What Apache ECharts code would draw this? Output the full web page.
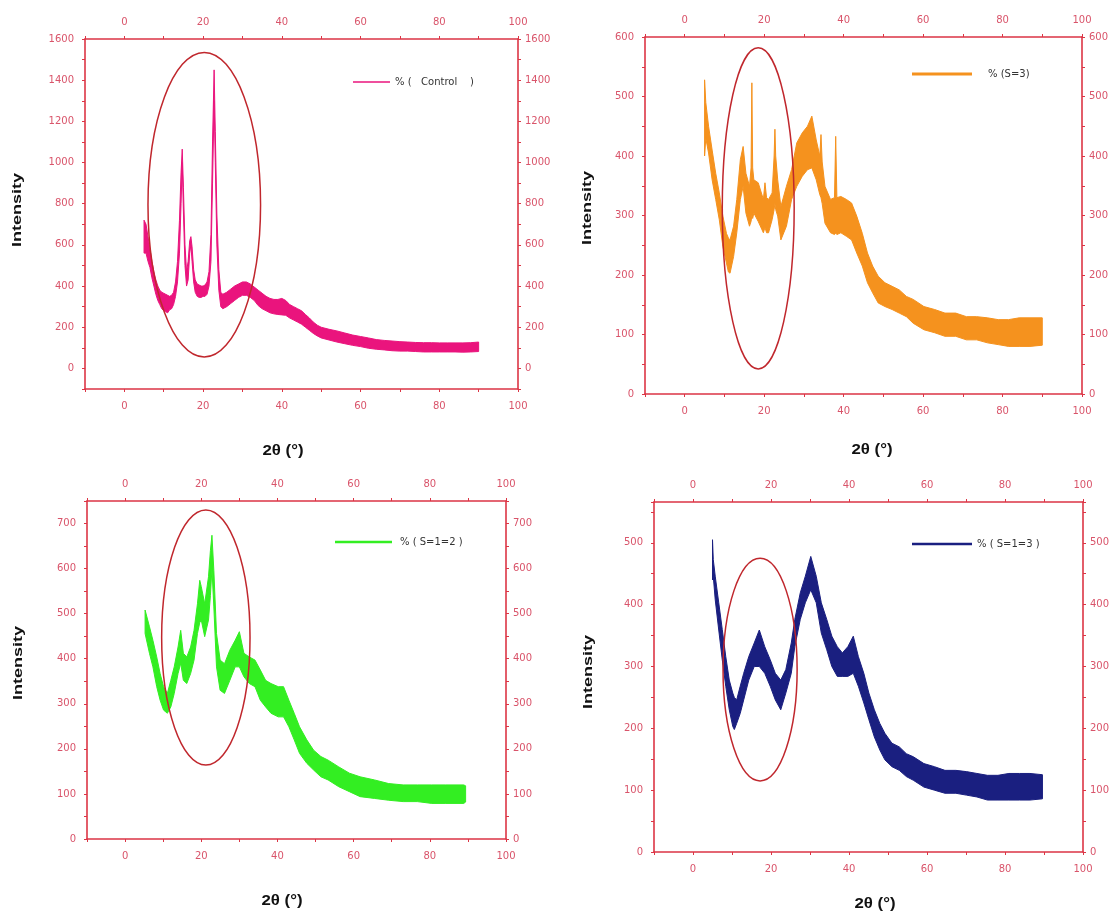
<!DOCTYPE html>
<html>
<head>
<meta charset="utf-8">
<script src="https://cdn.jsdelivr.net/npm/echarts@6/dist/echarts.min.js"></script>
<style>html,body{margin:0;padding:0;background:#fff;}#c{width:1114px;height:913px;}</style>
</head>
<body>
<div id="c"></div>
<script>
// ---------- data (2θ in degrees, intensity envelope: lower / upper edge of the noisy trace) ----------
const NAMES = ['% (   Control    )', '% (S=3)', '% ( S=1=2 )', '% ( S=1=3 )'];

const X1  = [5.0,5.5,6.0,6.5,7.0,7.5,8.0,8.5,9.0,9.5,10.0,10.5,11.0,11.5,12.0,12.5,13.0,13.5,14.0,14.4,14.7,15.0,15.4,15.8,16.2,16.6,16.9,17.2,17.6,18.0,18.5,19.0,19.5,20.0,20.5,21.0,21.5,22.0,22.4,22.8,23.1,23.5,24.0,24.5,25.0,26,27,28,29,30,31,32,33,34,35,36,37,38,39,40,41,42,43,44,45,46,47,48,49,50,52,54,56,58,60,62,64,66,68,70,72,74,76,78,80,82,84,86,88,90];
const LO1 = [560,560,520,490,440,400,360,330,310,290,280,275,270,285,290,310,350,420,560,800,1000,760,500,400,430,560,600,520,420,370,350,345,345,350,350,360,400,520,900,1300,1000,600,380,300,290,300,315,330,345,355,355,345,330,305,290,280,270,265,262,260,258,245,235,225,215,200,185,170,158,148,138,128,120,112,106,98,93,90,86,84,84,82,80,80,80,80,80,79,80,82];
const HI1 = [720,700,640,580,520,470,430,400,380,370,365,360,355,350,355,370,420,520,720,950,1065,880,600,470,520,620,640,590,480,430,410,405,400,400,405,420,470,650,1100,1450,1150,750,480,370,360,370,385,400,410,420,420,410,395,380,365,350,340,335,335,340,330,310,300,290,280,262,245,225,210,200,190,182,172,162,155,148,140,136,133,130,128,126,125,125,124,124,124,124,125,128];

const X2  = [5.0,5.3,6.0,6.9,7.8,8.7,9.6,10.5,11.0,11.4,12.3,13.1,14.0,14.7,15.4,16.3,16.7,16.9,17.1,17.4,18.5,19.8,20.2,20.6,21.1,22.0,22.5,22.7,22.9,23.4,24.2,25.6,26.9,28.2,29.6,30.9,32.0,33.1,34.0,34.3,34.6,35.3,36.7,37.7,38.0,38.3,39.3,40.7,42.0,43.3,44.7,46.0,47.3,48.7,50.4,52.2,54.0,55.8,57.5,60.2,62.9,65.5,68.2,70.9,73.5,76.2,78.9,81.5,84.2,86.9,90.0];
const LO2 = [400,430,405,360,327,293,248,220,205,203,231,271,327,349,304,282,290,300,295,304,290,271,280,271,271,293,310,320,310,299,259,282,327,349,366,377,380,360,335,330,320,287,271,268,270,268,271,265,259,237,215,187,170,153,147,142,136,130,119,108,103,97,97,91,91,86,83,80,80,80,82];
const HI2 = [528,490,450,410,371,338,299,270,262,259,282,327,394,416,371,349,380,523,380,360,355,327,355,330,327,338,400,445,400,360,315,349,377,422,439,450,467,427,400,436,390,349,327,330,433,330,332,327,321,299,270,237,215,198,187,181,175,164,159,147,142,136,136,130,130,128,125,125,128,128,128];

const X3  = [5.25,6.4,7.3,8.3,9.2,10.1,11.1,12.0,12.9,13.9,14.6,15.3,16.2,17.2,18.1,19.0,19.6,20.0,20.9,21.9,22.4,22.8,23.3,24.0,24.95,26.1,27.5,28.9,30.0,31.2,32.6,34.1,35.5,36.9,38.3,40.2,41.6,43.0,44.4,45.8,47.7,49.5,51.4,53.3,56.1,58.9,61.7,65.5,69.2,73.0,76.7,80.5,84.2,88.9,89.4];
const LO3 = [456,412,382,338,308,286,279,293,323,367,390,352,345,367,397,456,480,486,449,486,540,600,515,382,330,323,352,382,382,360,345,338,308,293,279,271,271,249,220,190,168,153,138,131,116,105,94,90,86,83,83,79,79,79,82];
const HI3 = [508,471,441,404,367,338,323,352,382,426,463,412,404,426,463,522,574,560,522,582,640,674,596,456,397,389,419,441,460,412,404,397,375,352,345,338,338,308,279,249,220,197,183,175,160,146,138,131,123,120,120,120,120,120,118];

const X4  = [5.0,5.2,5.7,6.6,7.5,8.4,9.3,10.2,10.6,11.2,12.1,13.0,14.3,15.7,17.0,18.4,19.8,21.1,22.5,23.8,25.2,26.1,27.5,28.8,30.2,31.6,32.9,34.3,35.6,37.0,38.3,39.7,41.1,42.4,43.8,45.1,46.5,47.9,49.2,51.0,52.9,54.7,56.5,59.2,61.9,64.6,67.4,70.1,72.8,75.5,78.2,81.0,83.7,86.4,89.6];
const LO4 = [440,446,408,359,311,268,230,203,198,208,224,246,278,300,300,289,268,246,230,257,289,332,376,403,424,403,354,327,300,284,284,284,289,268,241,214,186,165,149,138,132,122,116,105,100,95,95,92,89,84,84,84,84,84,86];
const HI4 = [505,473,446,403,360,316,278,257,250,246,268,289,316,338,359,332,311,289,278,295,338,376,419,446,478,446,403,376,349,332,322,332,349,316,289,257,230,208,192,176,170,159,154,143,138,132,132,130,127,124,124,127,127,127,125];

// highlight ellipses: [centre 2θ, centre intensity, half-width 2θ, half-height intensity]
const ELL1 = [20.3, 795, 14.3, 740];
const ELL2 = [18.5, 312, 9.05, 270];
const ELL3 = [21.2, 447, 11.6, 283];
const ELL4 = [17.2, 295, 9.5, 180];

// axis ranges
const Y_MIN  = [-100, 0, 0, 0];
const Y_MAX  = [1600, 600, 750, 566];
const Y_STEP = [100, 50, 50, 50];
const Y_LABEL_STEP = [200, 100, 100, 100];
const X_MIN = -10, X_MAX = 100, X_STEP = 10, X_LABEL_STEP = 20;

// ---------- styling ----------
const COLORS = ['#ea147d', '#f5921e', '#33ee22', '#1a1f80'];
const AX = '#dc3545', LBL = '#d9546a', ELC = '#c0272d';
const GRIDS = [
  {left: 85,  top: 39,  width: 433, height: 350},
  {left: 645, top: 37,  width: 437, height: 357},
  {left: 87,  top: 501, width: 419, height: 338},
  {left: 654, top: 502, width: 429, height: 350}
];
const XS = [X1, X2, X3, X4], LOS = [LO1, LO2, LO3, LO4], HIS = [HI1, HI2, HI3, HI4];
const ELLS = [ELL1, ELL2, ELL3, ELL4];

const labelFont = {fontSize: 10, fontFamily: 'DejaVu Sans', color: LBL};

function xAxis(g, pos) {
  return {
    type: 'value', gridIndex: g, position: pos, min: X_MIN, max: X_MAX, interval: X_STEP,
    axisLine: {show: true, onZero: false, lineStyle: {color: AX, width: 1.6}},
    axisTick: {show: true, inside: false, length: 3, lineStyle: {color: AX, width: 1}},
    axisLabel: Object.assign({margin: 12, formatter: v => (v >= 0 && v % X_LABEL_STEP === 0) ? String(v) : ''}, labelFont),
    splitLine: {show: false}
  };
}
function yAxis(g, pos) {
  return {
    type: 'value', gridIndex: g, position: pos, min: Y_MIN[g], max: Y_MAX[g], interval: Y_STEP[g],
    axisLine: {show: true, onZero: false, lineStyle: {color: AX, width: 1.6}},
    axisTick: {show: true, inside: false, length: 3, lineStyle: {color: AX, width: 1}},
    axisLabel: Object.assign({margin: pos === 'left' ? 11 : 7, formatter: v => (v >= 0 && v % Y_LABEL_STEP[g] === 0) ? String(v) : ''}, labelFont),
    splitLine: {show: false}
  };
}

const xAxes = [], yAxes = [], series = [];
for (let g = 0; g < 4; g++) {
  xAxes.push(xAxis(g, 'bottom'), xAxis(g, 'top'));
  yAxes.push(yAxis(g, 'left'), yAxis(g, 'right'));
  const X = XS[g], LO = LOS[g], HI = HIS[g], col = COLORS[g];
  series.push({
    type: 'custom', name: NAMES[g], xAxisIndex: 2 * g, yAxisIndex: 2 * g,
    data: X.map((x, k) => [x, LO[k], HI[k]]),
    encode: {x: 0, y: [1, 2]},
    itemStyle: {color: col}, z: 3, silent: true,
    renderItem: function (params, api) {
      if (params.dataIndex !== 0) return null;
      const pts = [];
      for (let k = 0; k < X.length; k++) pts.push(api.coord([X[k], HI[k]]));
      for (let k = X.length - 1; k >= 0; k--) pts.push(api.coord([X[k], LO[k]]));
      return {type: 'polygon', shape: {points: pts},
              style: {fill: col, stroke: col, lineWidth: 1, lineJoin: 'round'}};
    }
  });
  series.push({
    type: 'custom', name: 'ellipse' + g, xAxisIndex: 2 * g, yAxisIndex: 2 * g,
    data: [ELLS[g]], encode: {x: 0, y: 1}, z: 5, silent: true,
    renderItem: function (params, api) {
      const c = api.coord([api.value(0), api.value(1)]);
      const s = api.size([api.value(2), api.value(3)]);
      return {type: 'ellipse', shape: {cx: c[0], cy: c[1], rx: s[0], ry: s[1]},
              style: {fill: 'none', stroke: ELC, lineWidth: 1.5}};
    }
  });
}

const legendText = {fontSize: 10, fontFamily: 'DejaVu Sans', color: '#333'};
const legends = [
  {left: 353, top: 77, itemWidth: 37, itemHeight: 1.5, pad: 0},
  {left: 912, top: 69, itemWidth: 60, itemHeight: 3, pad: 11},
  {left: 335, top: 537, itemWidth: 57, itemHeight: 2.5, pad: 3},
  {left: 912, top: 539, itemWidth: 60, itemHeight: 2.5, pad: 0}
].map((L, g) => ({
  data: [{name: NAMES[g], icon: 'rect'}], left: L.left, top: L.top, padding: 0,
  itemWidth: L.itemWidth, itemHeight: L.itemHeight, selectedMode: false,
  textStyle: Object.assign({padding: [0, 0, 0, L.pad]}, legendText)
}));

const titleY = [[18, 210], [588, 208], [19, 663], [589, 672]];
const titleX = [[283, 451], [872, 450], [282, 901], [875, 904]];
const graphic = [];
titleY.forEach(p => graphic.push({
  type: 'text', x: p[0], y: p[1], rotation: Math.PI / 2, scaleX: 1.5, silent: true,
  style: {text: 'Intensity', font: 'bold 12px "Liberation Sans", Arial, sans-serif', fill: '#111', align: 'center', verticalAlign: 'middle'}
}));
titleX.forEach(p => graphic.push({
  type: 'text', x: p[0], y: p[1], scaleX: 1.12, silent: true,
  style: {text: '2θ (°)', font: 'bold 15px "Liberation Sans", Arial, sans-serif', fill: '#111', align: 'center', verticalAlign: 'middle'}
}));

const chart = echarts.init(document.getElementById('c'), null, {renderer: 'canvas'});
chart.setOption({
  backgroundColor: '#ffffff',
  animation: false,
  grid: GRIDS,
  xAxis: xAxes,
  yAxis: yAxes,
  legend: legends,
  series: series,
  graphic: graphic
});
</script>
</body>
</html>
